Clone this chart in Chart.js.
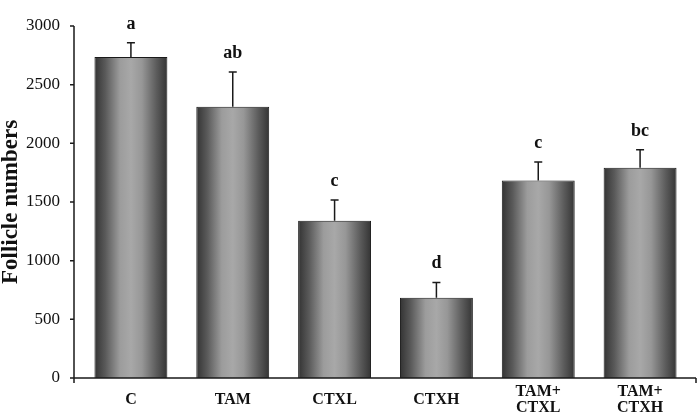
<!DOCTYPE html>
<html lang="en">
<head>
    <meta charset="UTF-8">
    <title>Follicle numbers</title>
    <script src="https://cdn.jsdelivr.net/npm/chart.js"></script>
    <style>
        html, body { margin: 0; padding: 0; background: #fff; }
        #wrap { width: 697px; height: 418px; }
    </style>
</head>
<body>
    <div id="wrap"><canvas id="follicleChart" width="697" height="418"></canvas></div>

    <script>
        // groups, means, SD and significance letters
        const groups = ['C', 'TAM', 'CTXL', 'CTXH', ['TAM+', 'CTXL'], ['TAM+', 'CTXH']];
        const follicles = [2736, 2312, 1341, 683, 1682, 1792];
        const errors = [120, 295, 176, 131, 158, 154];
        const letters = ['a', 'ab', 'c', 'd', 'c', 'bc'];
        const yTicks = [0, 500, 1000, 1500, 2000, 2500, 3000];

        const barPct = 0.716;
        const serif = '"Liberation Serif", "Times New Roman", serif';

        // shaded cylinder look: dark edges, light middle
        function barShade(c) {
            const chart = c.chart;
            const a = chart.chartArea;
            if (!a) return '#888';
            const cx = chart.scales.x.getPixelForValue(c.dataIndex);
            const w = (a.right - a.left) / groups.length * barPct;
            const g = chart.ctx.createLinearGradient(cx - w / 2, 0, cx + w / 2, 0);
            g.addColorStop(0, '#333333');
            g.addColorStop(0.15, '#5a5a5a');
            g.addColorStop(0.35, '#9c9c9c');
            g.addColorStop(0.5, '#a8a8a8');
            g.addColorStop(0.65, '#979797');
            g.addColorStop(0.85, '#5c5c5c');
            g.addColorStop(1, '#343434');
            return g;
        }

        // axes lines, error bars and letters
        const overlay = {
            id: 'overlay',
            afterDatasetsDraw(chart) {
                const { ctx, chartArea: a, scales: { y } } = chart;
                const ax = a.left - 6;
                ctx.save();
                ctx.strokeStyle = '#1a1a1a';
                ctx.fillStyle = '#111';
                ctx.lineWidth = 1.5;

                const meta = chart.getDatasetMeta(0);
                ctx.font = 'bold 18px ' + serif;
                ctx.textAlign = 'center';
                ctx.textBaseline = 'alphabetic';
                meta.data.forEach((bar, i) => {
                    const top = y.getPixelForValue(follicles[i] + errors[i]);
                    ctx.beginPath();
                    ctx.moveTo(bar.x, bar.y);
                    ctx.lineTo(bar.x, top);
                    ctx.moveTo(bar.x - 4, top);
                    ctx.lineTo(bar.x + 4, top);
                    ctx.stroke();
                    ctx.fillText(letters[i], bar.x, top - 14);
                });

                // y axis with outside ticks
                ctx.beginPath();
                ctx.moveTo(ax, a.top);
                ctx.lineTo(ax, a.bottom + 5);
                y.ticks.forEach(t => {
                    const py = y.getPixelForValue(t.value);
                    ctx.moveTo(ax - 4, py);
                    ctx.lineTo(ax, py);
                });
                // x axis
                ctx.moveTo(ax - 4, a.bottom);
                ctx.lineTo(a.right + 5, a.bottom);
                ctx.moveTo(a.right + 5, a.bottom);
                ctx.lineTo(a.right + 5, a.bottom + 5);
                ctx.stroke();
                ctx.restore();
            }
        };

        const ctx = document.getElementById('follicleChart').getContext('2d');
        new Chart(ctx, {
            type: 'bar',
            data: {
                labels: groups,
                datasets: [{
                    data: follicles,
                    backgroundColor: barShade,
                    borderColor: '#1a1a1a',
                    borderWidth: 1,
                    categoryPercentage: 1,
                    barPercentage: barPct
                }]
            },
            plugins: [overlay],
            options: {
                responsive: false,
                animation: false,
                layout: { padding: { top: 6, right: 6, left: 0, bottom: 0 } },
                plugins: {
                    legend: { display: false },
                    tooltip: { enabled: false }
                },
                scales: {
                    x: {
                        offset: true,
                        grid: { display: false, drawTicks: false },
                        border: { display: false },
                        ticks: {
                            color: '#111',
                            padding: 14,
                            crossAlign: 'center',
                            maxRotation: 0,
                            autoSkip: false,
                            font: { family: serif, size: 16, weight: 'bold', lineHeight: 1 }
                        },
                        afterFit: s => { s.height = 40; }
                    },
                    y: {
                        min: 0,
                        max: 3000,
                        afterBuildTicks: s => { s.ticks = yTicks.map(v => ({ value: v })); },
                        grid: { display: false, drawTicks: false },
                        border: { display: false },
                        ticks: {
                            color: '#111',
                            padding: 20,
                            callback: v => String(v),
                            font: { family: serif, size: 17, lineHeight: 0.7 }
                        },
                        title: {
                            display: true,
                            text: 'Follicle numbers',
                            color: '#111',
                            padding: 0,
                            font: { family: serif, size: 23, weight: 'bold', lineHeight: 1 }
                        },
                        afterFit: s => { s.width = 80; }
                    }
                }
            }
        });
    </script>
</body>
</html>
